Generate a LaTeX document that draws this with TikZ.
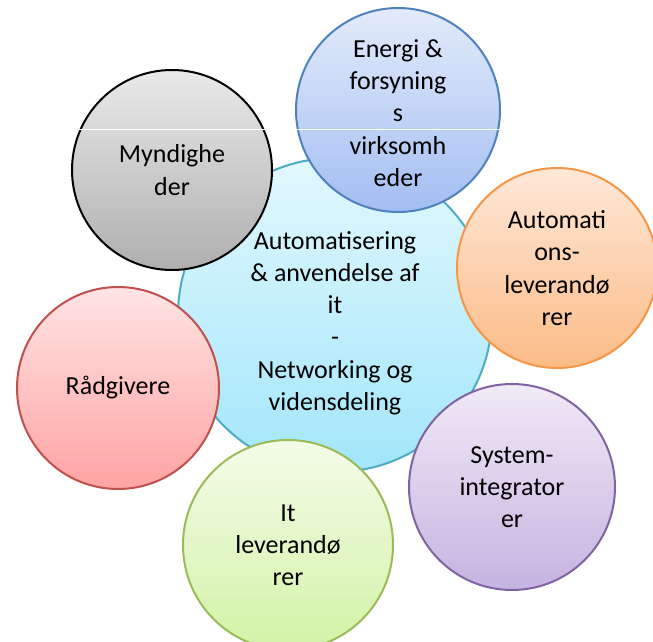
\documentclass[tikz,border=0pt]{standalone}
\usepackage{fontspec}
\setmainfont{Carlito}

\definecolor{hubtop}{HTML}{E2F8FE}
\definecolor{hubbot}{HTML}{A2E6FA}
\definecolor{hubline}{HTML}{4BACC6}
\definecolor{bluetop}{HTML}{E3EBFA}
\definecolor{bluebot}{HTML}{A3BEF3}
\definecolor{blueline}{HTML}{4F81BD}
\definecolor{greytop}{HTML}{E9E9E9}
\definecolor{greybot}{HTML}{AFAFAF}
\definecolor{orangetop}{HTML}{FFE8D8}
\definecolor{orangebot}{HTML}{FBBB86}
\definecolor{orangeline}{HTML}{F79646}
\definecolor{purpletop}{HTML}{F0EAF7}
\definecolor{purplebot}{HTML}{C6B3E0}
\definecolor{purpleline}{HTML}{8064A2}
\definecolor{greentop}{HTML}{F3FCE8}
\definecolor{greenbot}{HTML}{D3F2A6}
\definecolor{greenline}{HTML}{9BBB59}
\definecolor{redtop}{HTML}{FFE4E4}
\definecolor{redbot}{HTML}{FFA3A3}
\definecolor{redline}{HTML}{C0504D}

\begin{document}
\begin{tikzpicture}[
    x=0.5pt, y=-0.5pt,
    bubble/.style={circle, draw, line width=1pt, align=center, inner sep=0pt, text=black, font=\fontsize{13}{16.1}\selectfont},
    seam/.style={white, line width=0.5pt}
  ]
    \useasboundingbox (0,0) rectangle (653,642);

    \node[bubble, minimum size=157pt, draw=hubline, top color=hubtop, bottom color=hubbot] (hub) at (335,315) {\rule{0pt}{17pt}Automatisering\\\& anvendelse af\\it\\-\\Networking og\\vidensdeling};

    \node[bubble, minimum size=102pt, draw=blueline, top color=bluetop, bottom color=bluebot] (energi) at (398,110) {\rule{0pt}{12pt}Energi \&\\forsyning\\s\\virksomh\\eder};
    \node[bubble, minimum size=100pt, draw=black, top color=greytop, bottom color=greybot] (myndig) at (172,170) {Myndighe\\der};
    \node[bubble, minimum size=100pt, draw=orangeline, top color=orangetop, bottom color=orangebot] (automa) at (557,268) {Automati\\ons-\\leverandø\\rer};
    \node[bubble, minimum size=103pt, draw=purpleline, top color=purpletop, bottom color=purplebot] (system) at (512,487) {System-\\integrator\\er};
    \node[bubble, minimum size=105pt, draw=greenline, top color=greentop, bottom color=greenbot] (itlev) at (288,545) {It\\leverandø\\rer};
    \node[bubble, minimum size=101pt, draw=redline, top color=redtop, bottom color=redbot] (raad) at (118,388) {Rådgivere};

    % thin light seam across the two upper circles
    \draw[seam] (myndig.west |- 0,130) -- (energi.east |- 0,130);
  \end{tikzpicture}
\end{document}
